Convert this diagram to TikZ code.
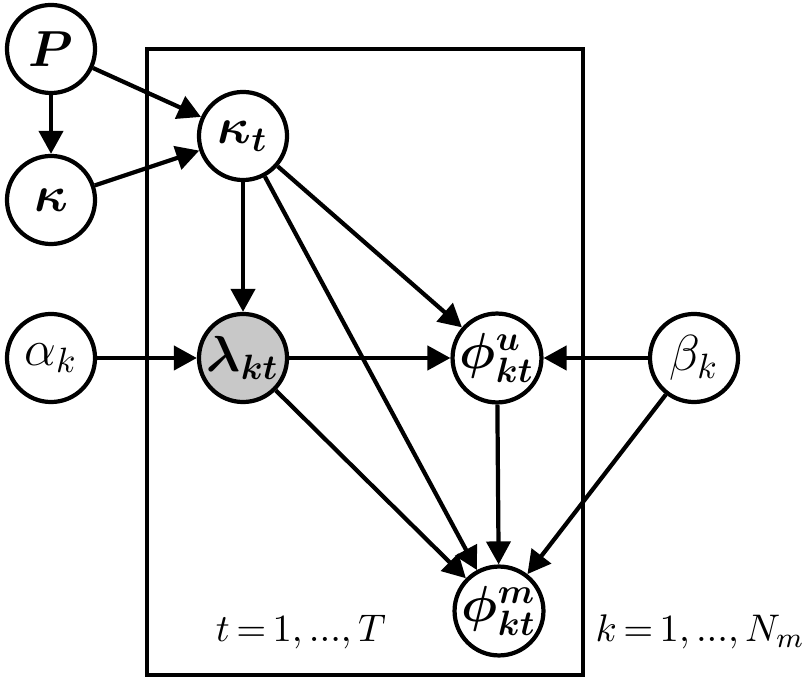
\documentclass[tikz,border=0pt]{standalone}
\usepackage{amsmath,amssymb}
\usepackage{bm}
\usepackage{tikz}
\usetikzlibrary{positioning,arrows.meta}
\definecolor{obscolor}{RGB}{200,200,200}

\begin{document}
\begin{tikzpicture}[
  x=0.01cm, y=-0.01cm,
  var/.style={draw, circle, line width=1.2pt, minimum size=0.88cm, inner sep=0pt, fill=white, font=\fontsize{14}{16}\selectfont},
  obs/.style={var, fill=obscolor},
  arrow/.style={-{Triangle[length=2.3mm, width=2.4mm]}, line width=1.2pt},
  plate/.style={draw, line width=1pt},
  note/.style={font=\fontsize{11}{13}\selectfont, inner sep=0pt},
]
\useasboundingbox (0,0) rectangle (804,680);

% Plate
\draw[plate] (147,49) rectangle (583,675);

% Global variables
\node[var] (P) at (51,49) {$\bm{P}$};
\node[var] (kappa) at (51,200) {$\bm{\kappa}$};
\node[var] (alpha) at (51,358) {$\alpha_k$};
\node[var] (beta) at (694,358) {$\beta_k$};

% Plate variables
\node[var] (kappat) at (243,136) {$\bm{\kappa_t}$};
\node[obs] (lambda) at (243,358) {$\bm{\lambda_{kt}}$};
\node[var] (phiu) at (497,358) {$\bm{\phi^{u}_{kt}}$};
\node[var] (phim) at (499,611) {$\bm{\phi^{m}_{kt}}$};

% Labels
\node[note] (tlab) at (301,632) {$t\,{=}\,1,...,T$};
\node[note, anchor=west] (klab) at (595,632) {$k\,{=}\,1,...,N_m$};

\draw[arrow] (P) -- (kappa);
\draw[arrow] (P) -- (kappat);
\draw[arrow] (kappa) -- (kappat);
\draw[arrow] (kappat) -- (lambda);
\draw[arrow] (kappat) -- (phiu);
\draw[arrow] (kappat) -- (phim);
\draw[arrow] (alpha) -- (lambda);
\draw[arrow] (lambda) -- (phiu);
\draw[arrow] (lambda) -- (phim);
\draw[arrow] (phiu) -- (phim);
\draw[arrow] (beta) -- (phiu);
\draw[arrow] (beta) -- (phim);

\end{tikzpicture}
\end{document}
